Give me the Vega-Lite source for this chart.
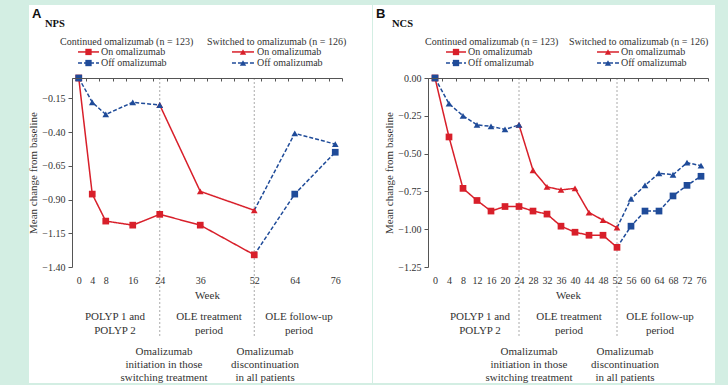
{
  "$schema": "https://vega.github.io/schema/vega-lite/v6.json",
  "background": "#d3eee3",
  "padding": {"left": 27, "top": 5, "right": 16, "bottom": 2},
  "spacing": 0,
  "config": {"view": {"stroke": null}, "font": "Liberation Serif", "text": {"font": "Liberation Serif"}},
  "datasets": {
    "nps": [
      {"series": "C-On", "segment": "C-On", "week": 0, "change": 0},
      {"series": "C-On", "segment": "C-On", "week": 4, "change": -0.86},
      {"series": "C-On", "segment": "C-On", "week": 8, "change": -1.06},
      {"series": "C-On", "segment": "C-On", "week": 16, "change": -1.09},
      {"series": "C-On", "segment": "C-On", "week": 24, "change": -1.01},
      {"series": "C-On", "segment": "C-On", "week": 36, "change": -1.09},
      {"series": "C-On", "segment": "C-On", "week": 52, "change": -1.31},
      {"series": "S-On", "segment": "S-On", "week": 24, "change": -0.2},
      {"series": "S-On", "segment": "S-On", "week": 36, "change": -0.84},
      {"series": "S-On", "segment": "S-On", "week": 52, "change": -0.98},
      {"series": "S-Off", "segment": "S-Off-a", "week": 0, "change": 0},
      {"series": "S-Off", "segment": "S-Off-a", "week": 4, "change": -0.18},
      {"series": "S-Off", "segment": "S-Off-a", "week": 8, "change": -0.27},
      {"series": "S-Off", "segment": "S-Off-a", "week": 16, "change": -0.18},
      {"series": "S-Off", "segment": "S-Off-a", "week": 24, "change": -0.2},
      {"series": "S-Off", "segment": "S-Off-b", "week": 52, "change": -0.98},
      {"series": "S-Off", "segment": "S-Off-b", "week": 64, "change": -0.41},
      {"series": "S-Off", "segment": "S-Off-b", "week": 76, "change": -0.49},
      {"series": "C-Off", "segment": "C-Off-b", "week": 52, "change": -1.31},
      {"series": "C-Off", "segment": "C-Off-b", "week": 64, "change": -0.86},
      {"series": "C-Off", "segment": "C-Off-b", "week": 76, "change": -0.55},
      {"series": "C-Off", "segment": "C-Off-a", "week": 0, "change": 0}
    ],
    "ncs": [
      {"series": "C-On", "segment": "C-On", "week": 0, "change": 0},
      {"series": "C-On", "segment": "C-On", "week": 4, "change": -0.39},
      {"series": "C-On", "segment": "C-On", "week": 8, "change": -0.73},
      {"series": "C-On", "segment": "C-On", "week": 12, "change": -0.81},
      {"series": "C-On", "segment": "C-On", "week": 16, "change": -0.88},
      {"series": "C-On", "segment": "C-On", "week": 20, "change": -0.85},
      {"series": "C-On", "segment": "C-On", "week": 24, "change": -0.85},
      {"series": "C-On", "segment": "C-On", "week": 28, "change": -0.88},
      {"series": "C-On", "segment": "C-On", "week": 32, "change": -0.9},
      {"series": "C-On", "segment": "C-On", "week": 36, "change": -0.98},
      {"series": "C-On", "segment": "C-On", "week": 40, "change": -1.02},
      {"series": "C-On", "segment": "C-On", "week": 44, "change": -1.04},
      {"series": "C-On", "segment": "C-On", "week": 48, "change": -1.04},
      {"series": "C-On", "segment": "C-On", "week": 52, "change": -1.12},
      {"series": "S-On", "segment": "S-On", "week": 24, "change": -0.31},
      {"series": "S-On", "segment": "S-On", "week": 28, "change": -0.61},
      {"series": "S-On", "segment": "S-On", "week": 32, "change": -0.72},
      {"series": "S-On", "segment": "S-On", "week": 36, "change": -0.74},
      {"series": "S-On", "segment": "S-On", "week": 40, "change": -0.73},
      {"series": "S-On", "segment": "S-On", "week": 44, "change": -0.89},
      {"series": "S-On", "segment": "S-On", "week": 48, "change": -0.94},
      {"series": "S-On", "segment": "S-On", "week": 52, "change": -0.99},
      {"series": "S-Off", "segment": "S-Off-a", "week": 0, "change": 0},
      {"series": "S-Off", "segment": "S-Off-a", "week": 4, "change": -0.17},
      {"series": "S-Off", "segment": "S-Off-a", "week": 8, "change": -0.25},
      {"series": "S-Off", "segment": "S-Off-a", "week": 12, "change": -0.31},
      {"series": "S-Off", "segment": "S-Off-a", "week": 16, "change": -0.32},
      {"series": "S-Off", "segment": "S-Off-a", "week": 20, "change": -0.34},
      {"series": "S-Off", "segment": "S-Off-a", "week": 24, "change": -0.31},
      {"series": "S-Off", "segment": "S-Off-b", "week": 52, "change": -0.99},
      {"series": "S-Off", "segment": "S-Off-b", "week": 56, "change": -0.8},
      {"series": "S-Off", "segment": "S-Off-b", "week": 60, "change": -0.71},
      {"series": "S-Off", "segment": "S-Off-b", "week": 64, "change": -0.63},
      {"series": "S-Off", "segment": "S-Off-b", "week": 68, "change": -0.64},
      {"series": "S-Off", "segment": "S-Off-b", "week": 72, "change": -0.56},
      {"series": "S-Off", "segment": "S-Off-b", "week": 76, "change": -0.58},
      {"series": "C-Off", "segment": "C-Off-b", "week": 52, "change": -1.12},
      {"series": "C-Off", "segment": "C-Off-b", "week": 56, "change": -0.98},
      {"series": "C-Off", "segment": "C-Off-b", "week": 60, "change": -0.88},
      {"series": "C-Off", "segment": "C-Off-b", "week": 64, "change": -0.88},
      {"series": "C-Off", "segment": "C-Off-b", "week": 68, "change": -0.78},
      {"series": "C-Off", "segment": "C-Off-b", "week": 72, "change": -0.71},
      {"series": "C-Off", "segment": "C-Off-b", "week": 76, "change": -0.65},
      {"series": "C-Off", "segment": "C-Off-a", "week": 0, "change": 0}
    ],
    "one": [{}],
    "marks": [{"week": 24}, {"week": 52}]
  },
  "hconcat": [
    {
      "width": 270,
      "height": 189,
      "resolve": {"axis": {"x": "independent", "y": "independent"}},
      "layer": [
        {
          "data": {"name": "one"},
          "mark": {"type": "rect", "fill": "white"},
          "encoding": {
            "x": {"datum": -14.74, "type": "quantitative", "scale": {"domain": [-2, 78], "nice": false, "zero": false}, "axis": null},
            "x2": {"datum": 86.89},
            "y": {"datum": 0.5407, "type": "quantitative", "scale": {"domain": [-1.4, 0], "nice": false, "zero": false}, "axis": null},
            "y2": {"datum": -2.259}
          }
        },
        {
          "data": {"name": "marks"},
          "mark": {"type": "rule", "color": "#aaaaaa", "strokeDash": [2, 2], "strokeWidth": 1},
          "encoding": {
            "x": {"field": "week", "type": "quantitative",
              "axis": {"orient": "top", "zindex": 1, "values": [-2, 2, 6, 10, 14, 18, 22, 26, 30, 34, 38, 42, 46, 50, 54, 58, 62, 66, 70, 74, 78], "labels": false, "domainColor": "#555", "tickColor": "#555", "tickSize": -3, "title": null, "grid": false}},
            "y": {"datum": 0, "type": "quantitative", "axis": null},
            "y2": {"datum": -1.911}
          }
        },
        {
          "data": {"name": "nps"},
          "mark": {"type": "line", "strokeWidth": 1.5},
          "encoding": {
            "x": {"field": "week", "type": "quantitative",
              "axis": {"orient": "bottom", "zindex": 1, "values": [0, 4, 8, 16, 24, 36, 52, 64, 76], "domain": false, "ticks": false, "tickSize": 0, "labelPadding": 8, "labelFont": "Liberation Serif", "labelFontSize": 10, "labelColor": "#333", "labelOverlap": false, "labelFlush": false, "title": "Week", "titleFont": "Liberation Serif", "titleFontSize": 11, "titleFontWeight": "normal", "titleColor": "#333", "titlePadding": 4, "grid": false}},
            "y": {"field": "change", "type": "quantitative",
              "axis": {"orient": "left", "zindex": 1, "values": [-1.4, -1.15, -0.9, -0.65, -0.4, -0.15], "format": ".2f", "grid": false, "domainColor": "#555", "tickColor": "#555", "tickSize": 4, "labelPadding": 3, "labelFont": "Liberation Serif", "labelFontSize": 10, "labelColor": "#333", "title": "Mean change from baseline", "titleFont": "Liberation Serif", "titleFontSize": 11, "titleFontWeight": "normal", "titleColor": "#333", "titlePadding": 3}},
            "color": {"field": "series", "type": "nominal", "scale": {"domain": ["C-On", "S-On", "C-Off", "S-Off"], "range": ["#d81f2a", "#d81f2a", "#1f4b99", "#1f4b99"]}, "legend": null},
            "strokeDash": {"field": "series", "type": "nominal", "scale": {"domain": ["C-On", "S-On", "C-Off", "S-Off"], "range": [[1, 0], [1, 0], [4, 2], [4, 2]]}, "legend": null},
            "detail": {"field": "segment"}
          }
        },
        {
          "data": {"name": "nps"},
          "transform": [{"filter": "!((datum.series == 'C-Off' || datum.series == 'S-Off') && datum.week == 52)"}],
          "mark": {"type": "point", "filled": true, "opacity": 1, "size": 45},
          "encoding": {
            "x": {"field": "week", "type": "quantitative", "axis": null},
            "y": {"field": "change", "type": "quantitative", "axis": null},
            "color": {"field": "series", "type": "nominal", "scale": {"domain": ["C-On", "S-On", "C-Off", "S-Off"], "range": ["#d81f2a", "#d81f2a", "#1f4b99", "#1f4b99"]}, "legend": null},
            "shape": {"field": "series", "type": "nominal", "scale": {"domain": ["C-On", "S-On", "C-Off", "S-Off"], "range": ["square", "triangle-up", "square", "triangle-up"]}, "legend": null}
          }
        },
        {
          "data": {"name": "one"},
          "mark": {"type": "text", "text": "A", "font": "Liberation Sans", "fontWeight": "bold", "fontSize": 13, "align": "left", "baseline": "middle", "color": "#111"},
          "encoding": {"x": {"datum": -13.85, "type": "quantitative", "axis": null}, "y": {"datum": 0.474, "type": "quantitative", "axis": null}}
        },
        {
          "data": {"name": "one"},
          "mark": {"type": "text", "text": "NPS", "font": "Liberation Serif", "fontWeight": "bold", "fontSize": 10.5, "align": "left", "baseline": "middle", "color": "#111"},
          "encoding": {"x": {"datum": -10.0, "type": "quantitative", "axis": null}, "y": {"datum": 0.4, "type": "quantitative", "axis": null}}
        },
        {
          "data": {"name": "one"},
          "mark": {"type": "text", "text": "Continued omalizumab (n = 123)", "font": "Liberation Serif", "fontSize": 10, "align": "left", "baseline": "middle", "color": "#333"},
          "encoding": {"x": {"datum": -5.56, "type": "quantitative", "axis": null}, "y": {"datum": 0.267, "type": "quantitative", "axis": null}}
        },
        {
          "data": {"name": "one"},
          "mark": {"type": "text", "text": "Switched to omalizumab (n = 126)", "font": "Liberation Serif", "fontSize": 10, "align": "left", "baseline": "middle", "color": "#333"},
          "encoding": {"x": {"datum": 38, "type": "quantitative", "axis": null}, "y": {"datum": 0.267, "type": "quantitative", "axis": null}}
        },
        {
          "data": {"name": "one"},
          "mark": {"type": "rule", "color": "#d81f2a", "strokeWidth": 1.5},
          "encoding": {"x": {"datum": -0.22, "type": "quantitative", "axis": null}, "x2": {"datum": 6.0}, "y": {"datum": 0.193, "type": "quantitative", "axis": null}}
        },
        {
          "data": {"name": "one"},
          "mark": {"type": "rule", "color": "#1f4b99", "strokeWidth": 1.5, "strokeDash": [4, 2]},
          "encoding": {"x": {"datum": -0.22, "type": "quantitative", "axis": null}, "x2": {"datum": 6.0}, "y": {"datum": 0.111, "type": "quantitative", "axis": null}}
        },
        {
          "data": {"name": "one"},
          "mark": {"type": "rule", "color": "#d81f2a", "strokeWidth": 1.5},
          "encoding": {"x": {"datum": 45.4, "type": "quantitative", "axis": null}, "x2": {"datum": 51.93}, "y": {"datum": 0.193, "type": "quantitative", "axis": null}}
        },
        {
          "data": {"name": "one"},
          "mark": {"type": "rule", "color": "#1f4b99", "strokeWidth": 1.5, "strokeDash": [4, 2]},
          "encoding": {"x": {"datum": 45.4, "type": "quantitative", "axis": null}, "x2": {"datum": 51.93}, "y": {"datum": 0.111, "type": "quantitative", "axis": null}}
        },
        {
          "data": {"name": "one"},
          "mark": {"type": "point", "shape": "square", "filled": true, "opacity": 1, "size": 40, "color": "#d81f2a"},
          "encoding": {"x": {"datum": 2.89, "type": "quantitative", "axis": null}, "y": {"datum": 0.193, "type": "quantitative", "axis": null}}
        },
        {
          "data": {"name": "one"},
          "mark": {"type": "point", "shape": "square", "filled": true, "opacity": 1, "size": 40, "color": "#1f4b99"},
          "encoding": {"x": {"datum": 2.89, "type": "quantitative", "axis": null}, "y": {"datum": 0.111, "type": "quantitative", "axis": null}}
        },
        {
          "data": {"name": "one"},
          "mark": {"type": "point", "shape": "triangle-up", "filled": true, "opacity": 1, "size": 40, "color": "#d81f2a"},
          "encoding": {"x": {"datum": 48.67, "type": "quantitative", "axis": null}, "y": {"datum": 0.193, "type": "quantitative", "axis": null}}
        },
        {
          "data": {"name": "one"},
          "mark": {"type": "point", "shape": "triangle-up", "filled": true, "opacity": 1, "size": 40, "color": "#1f4b99"},
          "encoding": {"x": {"datum": 48.67, "type": "quantitative", "axis": null}, "y": {"datum": 0.111, "type": "quantitative", "axis": null}}
        },
        {
          "data": {"name": "one"},
          "mark": {"type": "text", "text": "On omalizumab", "font": "Liberation Serif", "fontSize": 10, "align": "left", "baseline": "middle", "color": "#333"},
          "encoding": {"x": {"datum": 6.59, "type": "quantitative", "axis": null}, "y": {"datum": 0.193, "type": "quantitative", "axis": null}}
        },
        {
          "data": {"name": "one"},
          "mark": {"type": "text", "text": "Off omalizumab", "font": "Liberation Serif", "fontSize": 10, "align": "left", "baseline": "middle", "color": "#333"},
          "encoding": {"x": {"datum": 6.59, "type": "quantitative", "axis": null}, "y": {"datum": 0.111, "type": "quantitative", "axis": null}}
        },
        {
          "data": {"name": "one"},
          "mark": {"type": "text", "text": "On omalizumab", "font": "Liberation Serif", "fontSize": 10, "align": "left", "baseline": "middle", "color": "#333"},
          "encoding": {"x": {"datum": 52.81, "type": "quantitative", "axis": null}, "y": {"datum": 0.193, "type": "quantitative", "axis": null}}
        },
        {
          "data": {"name": "one"},
          "mark": {"type": "text", "text": "Off omalizumab", "font": "Liberation Serif", "fontSize": 10, "align": "left", "baseline": "middle", "color": "#333"},
          "encoding": {"x": {"datum": 52.81, "type": "quantitative", "axis": null}, "y": {"datum": 0.111, "type": "quantitative", "axis": null}}
        },
        {
          "data": {"name": "one"},
          "mark": {"type": "text", "text": ["POLYP 1 and", "POLYP 2"], "font": "Liberation Serif", "fontSize": 11, "lineHeight": 14, "align": "center", "baseline": "middle", "color": "#333"},
          "encoding": {"x": {"datum": 10.74, "type": "quantitative", "axis": null}, "y": {"datum": -1.768, "type": "quantitative", "axis": null}}
        },
        {
          "data": {"name": "one"},
          "mark": {"type": "text", "text": ["OLE treatment", "period"], "font": "Liberation Serif", "fontSize": 11, "lineHeight": 14, "align": "center", "baseline": "middle", "color": "#333"},
          "encoding": {"x": {"datum": 38.59, "type": "quantitative", "axis": null}, "y": {"datum": -1.768, "type": "quantitative", "axis": null}}
        },
        {
          "data": {"name": "one"},
          "mark": {"type": "text", "text": ["OLE follow-up", "period"], "font": "Liberation Serif", "fontSize": 11, "lineHeight": 14, "align": "center", "baseline": "middle", "color": "#333"},
          "encoding": {"x": {"datum": 65.26, "type": "quantitative", "axis": null}, "y": {"datum": -1.768, "type": "quantitative", "axis": null}}
        },
        {
          "data": {"name": "one"},
          "mark": {"type": "text", "text": ["Omalizumab", "initiation in those", "switching treatment"], "font": "Liberation Serif", "fontSize": 11, "lineHeight": 13.3, "align": "center", "baseline": "middle", "color": "#333"},
          "encoding": {"x": {"datum": 25.26, "type": "quantitative", "axis": null}, "y": {"datum": -2.027, "type": "quantitative", "axis": null}}
        },
        {
          "data": {"name": "one"},
          "mark": {"type": "text", "text": ["Omalizumab", "discontinuation", "in all patients"], "font": "Liberation Serif", "fontSize": 11, "lineHeight": 13.3, "align": "center", "baseline": "middle", "color": "#333"},
          "encoding": {"x": {"datum": 55.19, "type": "quantitative", "axis": null}, "y": {"datum": -2.027, "type": "quantitative", "axis": null}}
        }
      ]
    },
    {
      "width": 280,
      "height": 189,
      "resolve": {"axis": {"x": "independent", "y": "independent"}},
      "layer": [
        {
          "data": {"name": "one"},
          "mark": {"type": "rect", "fill": "white"},
          "encoding": {
            "x": {"datum": -17.71, "type": "quantitative", "scale": {"domain": [-2, 78], "nice": false, "zero": false}, "axis": null},
            "x2": {"datum": 80},
            "y": {"datum": 0.4828, "type": "quantitative", "scale": {"domain": [-1.25, 0], "nice": false, "zero": false}, "axis": null},
            "y2": {"datum": -2.017}
          }
        },
        {
          "data": {"name": "marks"},
          "mark": {"type": "rule", "color": "#aaaaaa", "strokeDash": [2, 2], "strokeWidth": 1},
          "encoding": {
            "x": {"field": "week", "type": "quantitative",
              "axis": {"orient": "top", "zindex": 1, "values": [-2, 2, 6, 10, 14, 18, 22, 26, 30, 34, 38, 42, 46, 50, 54, 58, 62, 66, 70, 74, 78], "labels": false, "domainColor": "#555", "tickColor": "#555", "tickSize": -3, "title": null, "grid": false}},
            "y": {"datum": 0, "type": "quantitative", "axis": null},
            "y2": {"datum": -1.706}
          }
        },
        {
          "data": {"name": "ncs"},
          "mark": {"type": "line", "strokeWidth": 1.5},
          "encoding": {
            "x": {"field": "week", "type": "quantitative",
              "axis": {"orient": "bottom", "zindex": 1, "values": [0, 4, 8, 12, 16, 20, 24, 28, 32, 36, 40, 44, 48, 52, 56, 60, 64, 68, 72, 76], "domain": false, "ticks": false, "tickSize": 0, "labelPadding": 8, "labelFont": "Liberation Serif", "labelFontSize": 10, "labelColor": "#333", "labelOverlap": false, "labelFlush": false, "title": "Week", "titleFont": "Liberation Serif", "titleFontSize": 11, "titleFontWeight": "normal", "titleColor": "#333", "titlePadding": 4, "grid": false}},
            "y": {"field": "change", "type": "quantitative",
              "axis": {"orient": "left", "zindex": 1, "values": [0, -0.25, -0.5, -0.75, -1, -1.25], "format": ".2f", "grid": false, "domainColor": "#555", "tickColor": "#555", "tickSize": 4, "labelPadding": 3, "labelFont": "Liberation Serif", "labelFontSize": 10, "labelColor": "#333", "title": "Mean change from baseline", "titleFont": "Liberation Serif", "titleFontSize": 11, "titleFontWeight": "normal", "titleColor": "#333", "titlePadding": 3}},
            "color": {"field": "series", "type": "nominal", "scale": {"domain": ["C-On", "S-On", "C-Off", "S-Off"], "range": ["#d81f2a", "#d81f2a", "#1f4b99", "#1f4b99"]}, "legend": null},
            "strokeDash": {"field": "series", "type": "nominal", "scale": {"domain": ["C-On", "S-On", "C-Off", "S-Off"], "range": [[1, 0], [1, 0], [4, 2], [4, 2]]}, "legend": null},
            "detail": {"field": "segment"}
          }
        },
        {
          "data": {"name": "ncs"},
          "transform": [{"filter": "!((datum.series == 'C-Off' || datum.series == 'S-Off') && datum.week == 52)"}],
          "mark": {"type": "point", "filled": true, "opacity": 1, "size": 45},
          "encoding": {
            "x": {"field": "week", "type": "quantitative", "axis": null},
            "y": {"field": "change", "type": "quantitative", "axis": null},
            "color": {"field": "series", "type": "nominal", "scale": {"domain": ["C-On", "S-On", "C-Off", "S-Off"], "range": ["#d81f2a", "#d81f2a", "#1f4b99", "#1f4b99"]}, "legend": null},
            "shape": {"field": "series", "type": "nominal", "scale": {"domain": ["C-On", "S-On", "C-Off", "S-Off"], "range": ["square", "triangle-up", "square", "triangle-up"]}, "legend": null}
          }
        },
        {
          "data": {"name": "one"},
          "mark": {"type": "text", "text": "B", "font": "Liberation Sans", "fontWeight": "bold", "fontSize": 13, "align": "left", "baseline": "middle", "color": "#111"},
          "encoding": {"x": {"datum": -16.86, "type": "quantitative", "axis": null}, "y": {"datum": 0.423, "type": "quantitative", "axis": null}}
        },
        {
          "data": {"name": "one"},
          "mark": {"type": "text", "text": "NCS", "font": "Liberation Serif", "fontWeight": "bold", "fontSize": 10.5, "align": "left", "baseline": "middle", "color": "#111"},
          "encoding": {"x": {"datum": -12.29, "type": "quantitative", "axis": null}, "y": {"datum": 0.357, "type": "quantitative", "axis": null}}
        },
        {
          "data": {"name": "one"},
          "mark": {"type": "text", "text": "Continued omalizumab (n = 123)", "font": "Liberation Serif", "fontSize": 10, "align": "left", "baseline": "middle", "color": "#333"},
          "encoding": {"x": {"datum": -2.86, "type": "quantitative", "axis": null}, "y": {"datum": 0.235, "type": "quantitative", "axis": null}}
        },
        {
          "data": {"name": "one"},
          "mark": {"type": "text", "text": "Switched to omalizumab (n = 126)", "font": "Liberation Serif", "fontSize": 10, "align": "left", "baseline": "middle", "color": "#333"},
          "encoding": {"x": {"datum": 38.29, "type": "quantitative", "axis": null}, "y": {"datum": 0.235, "type": "quantitative", "axis": null}}
        },
        {
          "data": {"name": "one"},
          "mark": {"type": "rule", "color": "#d81f2a", "strokeWidth": 1.5},
          "encoding": {"x": {"datum": 3.14, "type": "quantitative", "axis": null}, "x2": {"datum": 8.86}, "y": {"datum": 0.172, "type": "quantitative", "axis": null}}
        },
        {
          "data": {"name": "one"},
          "mark": {"type": "rule", "color": "#1f4b99", "strokeWidth": 1.5, "strokeDash": [4, 2]},
          "encoding": {"x": {"datum": 3.14, "type": "quantitative", "axis": null}, "x2": {"datum": 8.86}, "y": {"datum": 0.0992, "type": "quantitative", "axis": null}}
        },
        {
          "data": {"name": "one"},
          "mark": {"type": "rule", "color": "#d81f2a", "strokeWidth": 1.5},
          "encoding": {"x": {"datum": 46.29, "type": "quantitative", "axis": null}, "x2": {"datum": 52.57}, "y": {"datum": 0.172, "type": "quantitative", "axis": null}}
        },
        {
          "data": {"name": "one"},
          "mark": {"type": "rule", "color": "#1f4b99", "strokeWidth": 1.5, "strokeDash": [4, 2]},
          "encoding": {"x": {"datum": 46.29, "type": "quantitative", "axis": null}, "x2": {"datum": 52.57}, "y": {"datum": 0.0992, "type": "quantitative", "axis": null}}
        },
        {
          "data": {"name": "one"},
          "mark": {"type": "point", "shape": "square", "filled": true, "opacity": 1, "size": 40, "color": "#d81f2a"},
          "encoding": {"x": {"datum": 6.0, "type": "quantitative", "axis": null}, "y": {"datum": 0.172, "type": "quantitative", "axis": null}}
        },
        {
          "data": {"name": "one"},
          "mark": {"type": "point", "shape": "square", "filled": true, "opacity": 1, "size": 40, "color": "#1f4b99"},
          "encoding": {"x": {"datum": 6.0, "type": "quantitative", "axis": null}, "y": {"datum": 0.0992, "type": "quantitative", "axis": null}}
        },
        {
          "data": {"name": "one"},
          "mark": {"type": "point", "shape": "triangle-up", "filled": true, "opacity": 1, "size": 40, "color": "#d81f2a"},
          "encoding": {"x": {"datum": 49.43, "type": "quantitative", "axis": null}, "y": {"datum": 0.172, "type": "quantitative", "axis": null}}
        },
        {
          "data": {"name": "one"},
          "mark": {"type": "point", "shape": "triangle-up", "filled": true, "opacity": 1, "size": 40, "color": "#1f4b99"},
          "encoding": {"x": {"datum": 49.43, "type": "quantitative", "axis": null}, "y": {"datum": 0.0992, "type": "quantitative", "axis": null}}
        },
        {
          "data": {"name": "one"},
          "mark": {"type": "text", "text": "On omalizumab", "font": "Liberation Serif", "fontSize": 10, "align": "left", "baseline": "middle", "color": "#333"},
          "encoding": {"x": {"datum": 9.43, "type": "quantitative", "axis": null}, "y": {"datum": 0.172, "type": "quantitative", "axis": null}}
        },
        {
          "data": {"name": "one"},
          "mark": {"type": "text", "text": "Off omalizumab", "font": "Liberation Serif", "fontSize": 10, "align": "left", "baseline": "middle", "color": "#333"},
          "encoding": {"x": {"datum": 9.43, "type": "quantitative", "axis": null}, "y": {"datum": 0.0992, "type": "quantitative", "axis": null}}
        },
        {
          "data": {"name": "one"},
          "mark": {"type": "text", "text": "On omalizumab", "font": "Liberation Serif", "fontSize": 10, "align": "left", "baseline": "middle", "color": "#333"},
          "encoding": {"x": {"datum": 53.14, "type": "quantitative", "axis": null}, "y": {"datum": 0.172, "type": "quantitative", "axis": null}}
        },
        {
          "data": {"name": "one"},
          "mark": {"type": "text", "text": "Off omalizumab", "font": "Liberation Serif", "fontSize": 10, "align": "left", "baseline": "middle", "color": "#333"},
          "encoding": {"x": {"datum": 53.14, "type": "quantitative", "axis": null}, "y": {"datum": 0.0992, "type": "quantitative", "axis": null}}
        },
        {
          "data": {"name": "one"},
          "mark": {"type": "text", "text": ["POLYP 1 and", "POLYP 2"], "font": "Liberation Serif", "fontSize": 11, "lineHeight": 14, "align": "center", "baseline": "middle", "color": "#333"},
          "encoding": {"x": {"datum": 12.86, "type": "quantitative", "axis": null}, "y": {"datum": -1.579, "type": "quantitative", "axis": null}}
        },
        {
          "data": {"name": "one"},
          "mark": {"type": "text", "text": ["OLE treatment", "period"], "font": "Liberation Serif", "fontSize": 11, "lineHeight": 14, "align": "center", "baseline": "middle", "color": "#333"},
          "encoding": {"x": {"datum": 38.29, "type": "quantitative", "axis": null}, "y": {"datum": -1.579, "type": "quantitative", "axis": null}}
        },
        {
          "data": {"name": "one"},
          "mark": {"type": "text", "text": ["OLE follow-up", "period"], "font": "Liberation Serif", "fontSize": 11, "lineHeight": 14, "align": "center", "baseline": "middle", "color": "#333"},
          "encoding": {"x": {"datum": 64.29, "type": "quantitative", "axis": null}, "y": {"datum": -1.579, "type": "quantitative", "axis": null}}
        },
        {
          "data": {"name": "one"},
          "mark": {"type": "text", "text": ["Omalizumab", "initiation in those", "switching treatment"], "font": "Liberation Serif", "fontSize": 11, "lineHeight": 13.3, "align": "center", "baseline": "middle", "color": "#333"},
          "encoding": {"x": {"datum": 26.86, "type": "quantitative", "axis": null}, "y": {"datum": -1.81, "type": "quantitative", "axis": null}}
        },
        {
          "data": {"name": "one"},
          "mark": {"type": "text", "text": ["Omalizumab", "discontinuation", "in all patients"], "font": "Liberation Serif", "fontSize": 11, "lineHeight": 13.3, "align": "center", "baseline": "middle", "color": "#333"},
          "encoding": {"x": {"datum": 54.29, "type": "quantitative", "axis": null}, "y": {"datum": -1.81, "type": "quantitative", "axis": null}}
        }
      ]
    }
  ]
}
